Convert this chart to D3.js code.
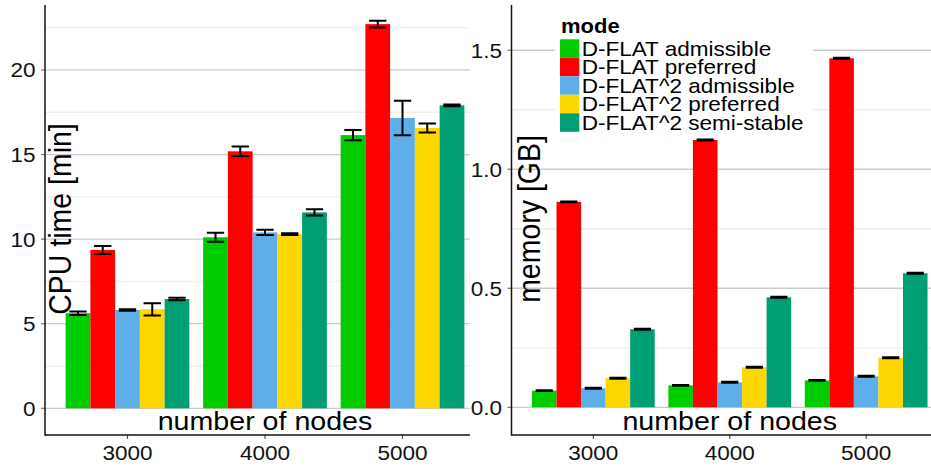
<!DOCTYPE html>
<meta charset="utf-8">
<script src="https://d3js.org/d3.v7.min.js"></script>
<style>

body {
  margin: 0;
  background: #fff;
}

svg {
  display: block;
  font-family: "Liberation Sans", Arial, sans-serif;
}

.grid-major {
  stroke: #cccccc;
  stroke-width: 1.3;
}

.grid-minor {
  stroke: #efefef;
  stroke-width: 1.3;
}

.errbar {
  stroke: #000;
  stroke-width: 2;
  fill: none;
}

</style>
<body>
<div class="chart"></div>
<script type="text/javascript">

// categories
var nodes = ["3000", "4000", "5000"];
var modes = ["D-FLAT admissible", "D-FLAT preferred", "D-FLAT^2 admissible",
             "D-FLAT^2 preferred", "D-FLAT^2 semi-stable"];
var modeColors = ["#00cc00", "#ff0000", "#5eaeea", "#ffd700", "#009e73"];

// CPU time [min], one row per number of nodes, one value per mode
var cpuMean = [[5.62, 9.36, 5.81, 5.85, 6.46],
               [10.11, 15.19, 10.40, 10.30, 11.58],
               [16.15, 22.71, 17.16, 16.57, 17.91]];
var cpuErr  = [[0.10, 0.24, 0.04, 0.36, 0.07],
               [0.26, 0.28, 0.16, 0.05, 0.18],
               [0.30, 0.20, 1.02, 0.26, 0.05]];

// memory [GB]
var memMean = [[0.070, 0.863, 0.080, 0.122, 0.328],
               [0.092, 1.123, 0.105, 0.168, 0.462],
               [0.113, 1.466, 0.130, 0.208, 0.563]];
var memErr  = [[0.002, 0.002, 0.002, 0.002, 0.002],
               [0.002, 0.002, 0.002, 0.002, 0.002],
               [0.002, 0.002, 0.002, 0.002, 0.002]];

// tick values
var cpuTicks = [0, 5, 10, 15, 20];
var cpuMinor = [2.5, 7.5, 12.5, 17.5, 22.5];
var memTicks = [0, 0.5, 1.0, 1.5];
var memMinor = [0.25, 0.75, 1.25];

// the source picture is stretched a bit horizontally
var stretch = 1.1;

var width = 931, height = 468;

var svg = d3.select(".chart").append("svg")
    .attr("width", width)
    .attr("height", height);

var color = d3.scaleOrdinal().domain(modes).range(modeColors);

function drawPanel(g, p) {

  var x = d3.scalePoint()
      .domain(nodes)
      .range([p.left, p.right])
      .padding(0.6);

  var step = x.step();

  var xMode = d3.scaleBand()
      .domain(modes)
      .range([-0.45 * step, 0.45 * step]);

  var y = d3.scaleLinear()
      .domain(p.yDomain)
      .range([435, 5]);

  // white background
  g.append("rect")
      .attr("x", p.bgLeft)
      .attr("y", 0)
      .attr("width", p.bgRight - p.bgLeft)
      .attr("height", height)
      .attr("fill", "#fff");

  // gridlines
  g.selectAll(".grid-minor")
    .data(p.minor)
    .enter().append("line")
      .attr("class", "grid-minor")
      .attr("x1", p.left)
      .attr("x2", p.gridRight)
      .attr("y1", function(d) { return y(d); })
      .attr("y2", function(d) { return y(d); });

  g.selectAll(".grid-major")
    .data(p.ticks)
    .enter().append("line")
      .attr("class", "grid-major")
      .attr("x1", p.left)
      .attr("x2", p.gridRight)
      .attr("y1", function(d) { return y(d); })
      .attr("y2", function(d) { return y(d); });

  // flatten data for bars
  var rows = [];
  nodes.forEach(function(n, i) {
    modes.forEach(function(m, j) {
      rows.push({node: n, mode: m, value: p.mean[i][j], err: p.err[i][j]});
    });
  });

  var bw = xMode.bandwidth();

  g.selectAll(".bar")
    .data(rows)
    .enter().append("rect")
      .attr("class", "bar")
      .attr("x", function(d) { return x(d.node) + xMode(d.mode); })
      .attr("y", function(d) { return y(d.value); })
      .attr("width", bw)
      .attr("height", function(d) { return y(0) - y(d.value); })
      .attr("fill", function(d) { return color(d.mode); });

  // error bars
  var eb = g.selectAll(".eb")
    .data(rows)
    .enter().append("g");

  eb.append("path")
      .attr("class", "errbar")
      .attr("d", function(d) {
        var cx = x(d.node) + xMode(d.mode) + bw / 2,
            hw = bw * 0.35,
            y1 = y(d.value + d.err),
            y0 = y(d.value - d.err);
        return "M" + (cx - hw) + "," + y1 + "H" + (cx + hw) +
               "M" + cx + "," + y1 + "V" + y0 +
               "M" + (cx - hw) + "," + y0 + "H" + (cx + hw);
      });

  // y ticks and labels
  g.selectAll(".ytick")
    .data(p.ticks)
    .enter().append("line")
      .attr("x1", p.left - 4)
      .attr("x2", p.left)
      .attr("y1", function(d) { return y(d); })
      .attr("y2", function(d) { return y(d); })
      .attr("stroke", "#777")
      .attr("stroke-width", 1.2);

  g.selectAll(".ylab")
    .data(p.ticks)
    .enter().append("text")
      .attr("transform", function(d) {
        return "translate(" + (p.left - 9.5) + "," + y(d) + ") scale(" + stretch + ",1)";
      })
      .attr("dy", "0.36em")
      .attr("text-anchor", "end")
      .attr("font-size", 20.5)
      .attr("fill", "#111")
      .text(p.tickFormat);

  // x ticks and labels
  g.selectAll(".xtick")
    .data(nodes)
    .enter().append("line")
      .attr("x1", function(d) { return x(d); })
      .attr("x2", function(d) { return x(d); })
      .attr("y1", 435)
      .attr("y2", 439)
      .attr("stroke", "#555")
      .attr("stroke-width", 1.2);

  g.selectAll(".xlab")
    .data(nodes)
    .enter().append("text")
      .attr("transform", function(d) {
        return "translate(" + x(d) + ",460) scale(" + stretch + ",1)";
      })
      .attr("text-anchor", "middle")
      .attr("font-size", 20.5)
      .attr("fill", "#111")
      .text(function(d) { return d; });

  // axis lines
  g.append("line")
      .attr("x1", p.left).attr("x2", p.left)
      .attr("y1", 5).attr("y2", 435.7)
      .attr("stroke", "#111")
      .attr("stroke-width", 1.5);

  g.append("line")
      .attr("x1", p.left).attr("x2", p.gridRight)
      .attr("y1", 435).attr("y2", 435)
      .attr("stroke", "#111")
      .attr("stroke-width", 1.5);

  // axis titles (sit inside the panel)
  g.append("text")
      .attr("transform", "translate(" + ((p.left + p.right) / 2) + ",430) scale(" + stretch + ",1)")
      .attr("text-anchor", "middle")
      .attr("font-size", 26)
      .attr("fill", "#000")
      .text("number of nodes");

  g.append("text")
      .attr("transform", "translate(" + p.titleX + ",219) scale(" + stretch + ",1) rotate(-90)")
      .attr("text-anchor", "middle")
      .attr("font-size", 28.5)
      .attr("fill", "#000")
      .text(p.yTitle);
}

// left panel: CPU time
drawPanel(svg.append("g"), {
  left: 45, right: 485, bgLeft: 0, bgRight: 470, gridRight: 485,
  yDomain: [-1.578, 23.84],
  ticks: cpuTicks, minor: cpuMinor,
  tickFormat: function(d) { return d; },
  mean: cpuMean, err: cpuErr,
  yTitle: "CPU time [min]", titleX: 70.5
});

// right panel: memory, drawn over the left one
drawPanel(svg.append("g"), {
  left: 511.5, right: 948, bgLeft: 470, bgRight: 931, gridRight: 931,
  yDomain: [-0.1164, 1.690],
  ticks: memTicks, minor: memMinor,
  tickFormat: d3.format(".1f"),
  mean: memMean, err: memErr,
  yTitle: "memory [GB]", titleX: 540
});

// legend
var legend = svg.append("g");

legend.append("rect")
    .attr("x", 555)
    .attr("y", 8)
    .attr("width", 258)
    .attr("height", 129)
    .attr("fill", "#fff");

legend.append("text")
    .attr("transform", "translate(561,33) scale(" + stretch + ",1)")
    .attr("font-size", 20)
    .attr("font-weight", "bold")
    .attr("fill", "#000")
    .text("mode");

var keyH = 18.5;

var items = legend.selectAll(".item")
    .data(modes)
    .enter().append("g")
      .attr("transform", function(d, i) { return "translate(560," + (39.3 + i * keyH) + ")"; });

items.append("rect")
    .attr("width", 19.3)
    .attr("height", keyH)
    .attr("fill", function(d) { return color(d); });

items.append("text")
    .attr("transform", "translate(21.7," + (keyH / 2 + 7.4) + ") scale(" + stretch + ",1)")
    .attr("font-size", 20.5)
    .attr("fill", "#000")
    .text(function(d) { return d; });

</script>
</body>
</html>
